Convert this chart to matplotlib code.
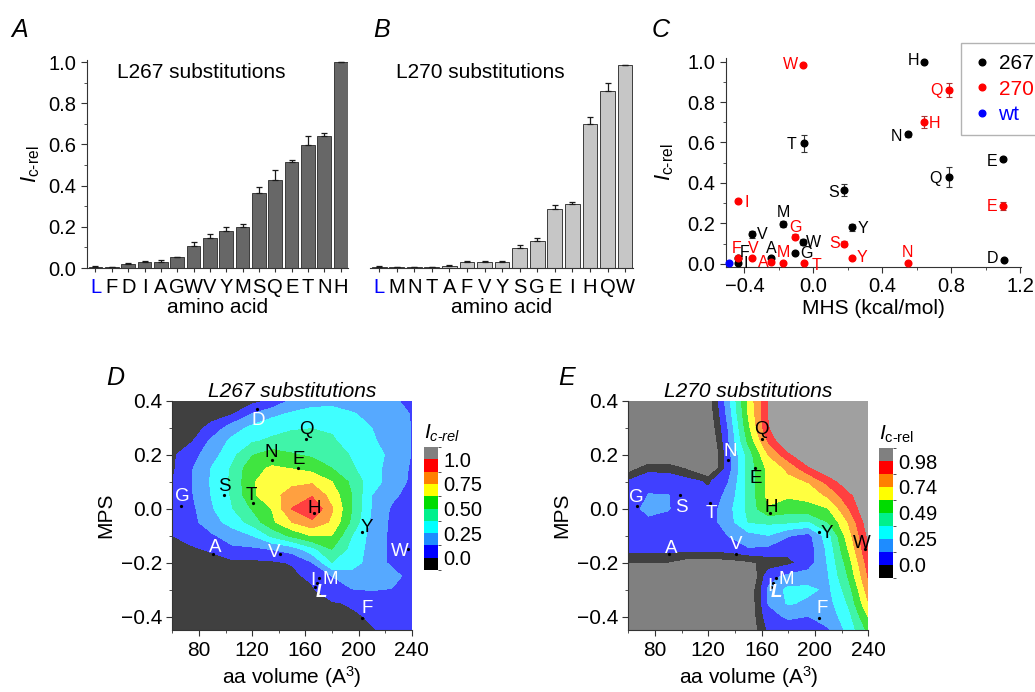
import numpy as np
import matplotlib.pyplot as plt
from matplotlib.colors import ListedColormap, BoundaryNorm, to_rgb
from matplotlib.cm import ScalarMappable
from matplotlib.lines import Line2D
from matplotlib.ticker import MultipleLocator

plt.rcParams['font.family'] = ['Liberation Sans', 'DejaVu Sans']
plt.rcParams['mathtext.fontset'] = 'custom'
plt.rcParams['mathtext.rm'] = 'Liberation Sans'
plt.rcParams['mathtext.it'] = 'Liberation Sans:italic'
plt.rcParams['axes.linewidth'] = 0.8
plt.rcParams['axes.edgecolor'] = '#333333'
plt.rcParams['xtick.color'] = '#333333'
plt.rcParams['ytick.color'] = '#333333'
plt.rcParams['xtick.labelcolor'] = 'black'
plt.rcParams['ytick.labelcolor'] = 'black'

# ---------------- bar data (A, B) ----------------
aa_267 = ['L', 'F', 'D', 'I', 'A', 'G', 'W', 'V', 'Y', 'M', 'S', 'Q', 'E', 'T', 'N', 'H']
ic_267 = [0.005, 0.003, 0.021, 0.029, 0.029, 0.052, 0.108, 0.146, 0.180, 0.197,
          0.364, 0.429, 0.516, 0.597, 0.641, 1.000]
err_267 = [0.003, 0.002, 0.003, 0.003, 0.008, 0.003, 0.016, 0.017, 0.017, 0.017,
           0.029, 0.049, 0.010, 0.042, 0.013, 0.002]

aa_270 = ['L', 'M', 'N', 'T', 'A', 'F', 'V', 'Y', 'S', 'G', 'E', 'I', 'H', 'Q', 'W']
ic_270 = [0.005, 0.003, 0.003, 0.003, 0.011, 0.028, 0.028, 0.028, 0.099, 0.133,
          0.288, 0.311, 0.701, 0.861, 0.984]
err_270 = [0.003, 0.002, 0.002, 0.002, 0.004, 0.004, 0.004, 0.004, 0.012, 0.012,
           0.020, 0.010, 0.030, 0.035, 0.002]

# ---------------- hydrophobicity scale (C) ----------------
mhs = {'L': -0.487, 'F': -0.437, 'D': 1.106, 'I': -0.438, 'A': -0.246, 'G': -0.107,
       'W': -0.063, 'V': -0.355, 'Y': 0.227, 'M': -0.174, 'S': 0.180, 'Q': 0.785,
       'E': 1.099, 'T': -0.054, 'N': 0.552, 'H': 0.643}

# ---------------- amino acid volume / MPS (D, E) ----------------
aa_vol = {'G': 66.2, 'A': 90.8, 'S': 98.8, 'T': 120.9, 'D': 123.9, 'N': 134.7,
          'V': 140.9, 'E': 154.7, 'Q': 160.5, 'H': 166.5, 'I': 168.5, 'L': 167.0,
          'M': 170.5, 'Y': 202.9, 'F': 202.9, 'W': 237.5}
aa_mps = {'G': 0.011, 'A': -0.168, 'S': 0.052, 'T': 0.021, 'D': 0.370, 'N': 0.180,
          'V': -0.167, 'E': 0.150, 'Q': 0.260, 'H': -0.017, 'I': -0.275, 'L': -0.290,
          'M': -0.257, 'Y': -0.088, 'F': -0.405, 'W': -0.148}

# contour grids (rows: MPS from 0.40 down to -0.45)
vol_grid = [60, 75, 90, 105, 120, 135, 150, 165, 180, 195, 210, 225, 240]
mps_grid = [0.40, 0.35, 0.30, 0.25, 0.20, 0.15, 0.10, 0.05, 0.00, -0.05,
            -0.10, -0.15, -0.20, -0.25, -0.30, -0.35, -0.40, -0.45]

map_267 = [
    [-0.10, -0.10, -0.09, -0.07, -0.04, 0.02, 0.15, 0.21, 0.22, 0.20, 0.17, 0.14, 0.10],
    [-0.10, -0.08, -0.05, -0.005, 0.13, 0.22, 0.27, 0.29, 0.29, 0.26, 0.22, 0.17, 0.12],
    [-0.08, -0.05, 0.04, 0.19, 0.28, 0.33, 0.36, 0.37, 0.36, 0.32, 0.25, 0.19, 0.12],
    [-0.06, -0.005, 0.16, 0.28, 0.36, 0.40, 0.43, 0.44, 0.39, 0.33, 0.27, 0.19, 0.12],
    [-0.02, 0.08, 0.20, 0.34, 0.49, 0.56, 0.51, 0.48, 0.46, 0.36, 0.30, 0.22, 0.12],
    [-0.02, 0.12, 0.26, 0.39, 0.59, 0.64, 0.62, 0.58, 0.50, 0.39, 0.30, 0.20, 0.11],
    [0.00, 0.125, 0.27, 0.40, 0.61, 0.70, 0.72, 0.73, 0.625, 0.47, 0.30, 0.20, 0.10],
    [0.03, 0.12, 0.26, 0.39, 0.60, 0.71, 0.80, 0.86, 0.70, 0.50, 0.25, 0.15, 0.08],
    [0.02, 0.10, 0.24, 0.37, 0.51, 0.63, 0.88, 1.00, 0.76, 0.50, 0.24, 0.11, 0.07],
    [0.02, 0.09, 0.20, 0.30, 0.42, 0.60, 0.75, 0.84, 0.73, 0.47, 0.22, 0.10, 0.06],
    [0.00, 0.06, 0.11, 0.18, 0.25, 0.40, 0.53, 0.63, 0.62, 0.375, 0.20, 0.10, 0.06],
    [-0.04, -0.02, 0.02, 0.10, 0.10, 0.13, 0.18, 0.33, 0.50, 0.33, 0.20, 0.10, 0.05],
    [-0.08, -0.07, -0.05, -0.03, -0.03, -0.02, 0.01, 0.12, 0.37, 0.30, 0.20, 0.10, 0.05],
    [-0.10, -0.10, -0.09, -0.08, -0.07, -0.05, -0.03, 0.03, 0.125, 0.20, 0.20, 0.17, 0.08],
    [-0.11, -0.11, -0.10, -0.10, -0.09, -0.08, -0.06, -0.02, 0.12, 0.12, 0.13, 0.12, 0.06],
    [-0.12, -0.12, -0.11, -0.11, -0.10, -0.09, -0.08, -0.05, -0.02, 0.02, 0.05, 0.06, 0.05],
    [-0.12, -0.12, -0.12, -0.11, -0.11, -0.10, -0.09, -0.07, -0.05, -0.03, 0.02, 0.05, 0.05],
    [-0.12, -0.12, -0.12, -0.12, -0.11, -0.11, -0.10, -0.09, -0.07, -0.04, -0.01, 0.03, 0.04],
]

map_270 = [
    [-0.50, -0.50, -0.45, -0.40, -0.20, 0.20, 0.64, 0.98, 1.10, 1.15, 1.20, 1.20, 1.20],
    [-0.50, -0.50, -0.45, -0.40, -0.22, 0.17, 0.62, 0.98, 1.10, 1.15, 1.20, 1.20, 1.20],
    [-0.45, -0.45, -0.45, -0.40, -0.25, 0.13, 0.58, 0.97, 1.08, 1.15, 1.20, 1.20, 1.20],
    [-0.40, -0.40, -0.40, -0.40, -0.30, 0.11, 0.52, 0.87, 1.12, 1.15, 1.20, 1.20, 1.20],
    [-0.30, -0.30, -0.30, -0.35, -0.35, 0.08, 0.42, 0.74, 0.94, 1.12, 1.18, 1.20, 1.20],
    [-0.20, -0.05, -0.05, -0.15, -0.30, 0.06, 0.41, 0.65, 0.76, 0.95, 1.08, 1.15, 1.20],
    [0.02, 0.10, 0.08, 0.05, -0.02, 0.12, 0.40, 0.64, 0.70, 0.74, 0.90, 1.06, 1.15],
    [0.06, 0.125, 0.125, 0.05, 0.03, 0.16, 0.40, 0.65, 0.63, 0.65, 0.76, 0.94, 1.10],
    [0.08, 0.15, 0.13, 0.05, 0.05, 0.20, 0.40, 0.60, 0.55, 0.57, 0.61, 0.85, 1.10],
    [0.06, 0.10, 0.08, 0.05, 0.06, 0.19, 0.37, 0.39, 0.38, 0.35, 0.49, 0.74, 1.05],
    [0.05, 0.05, 0.05, 0.05, 0.04, 0.125, 0.20, 0.24, 0.13, 0.08, 0.32, 0.68, 1.00],
    [0.04, 0.04, 0.04, 0.04, 0.04, 0.05, 0.11, 0.09, 0.04, 0.05, 0.28, 0.62, 0.97],
    [-0.12, -0.12, -0.13, -0.20, -0.20, -0.18, -0.15, -0.08, -0.03, 0.06, 0.26, 0.55, 0.92],
    [-0.30, -0.30, -0.30, -0.30, -0.30, -0.30, -0.30, 0.08, 0.15, 0.18, 0.24, 0.50, 0.87],
    [-0.30, -0.30, -0.30, -0.30, -0.30, -0.30, -0.25, 0.14, 0.28, 0.27, 0.22, 0.43, 0.80],
    [-0.30, -0.30, -0.30, -0.30, -0.30, -0.30, -0.25, 0.13, 0.26, 0.22, 0.20, 0.38, 0.73],
    [-0.30, -0.30, -0.30, -0.30, -0.30, -0.30, -0.25, 0.08, 0.14, 0.12, 0.17, 0.32, 0.62],
    [-0.30, -0.30, -0.30, -0.30, -0.30, -0.30, -0.25, 0.02, 0.06, 0.07, 0.11, 0.28, 0.52],
]

levels_267 = [-0.125, 0.0, 0.125, 0.25, 0.375, 0.5, 0.625, 0.75, 0.875, 1.0, 1.125]
levels_270 = [-0.1225, 0.0, 0.1225, 0.245, 0.3675, 0.49, 0.6125, 0.735, 0.8575, 0.98, 1.1025]
cbar_ticks_267 = ['0.0', '0.25', '0.50', '0.75', '1.0']
cbar_ticks_270 = ['0.0', '0.25', '0.49', '0.74', '0.98']

band_colors = ['#000000', '#0000ff', '#1e8cff', '#00ffff', '#00f08c',
               '#00dc00', '#ffff00', '#ff8000', '#ff0000', '#808080']

ylab = '$I_{\\mathrm{c\u2010rel}}$'

fig = plt.figure(figsize=(10.35, 6.92), dpi=100)
W, H = 1035, 692


def px_axes(l, t, r, b):
    return fig.add_axes([l / W, 1 - b / H, (r - l) / W, (b - t) / H])


def bar_panel(ax, aa, vals, err, color, text, tx):
    x = np.arange(len(aa))
    ax.bar(x, vals, width=0.84, color=color, edgecolor='#3c3c3c', linewidth=0.7,
           yerr=[np.zeros(len(err)), err],
           error_kw=dict(ecolor='#1a1a1a', elinewidth=0.9, capsize=2.5, capthick=0.9))
    ax.set_xticks(x)
    ax.set_xticklabels(aa, fontsize=14.5)
    ax.get_xticklabels()[0].set_color('blue')
    ax.set_xlim(-0.52, len(aa) - 0.55)
    ax.set_ylim(0, 1.01)
    ax.spines['top'].set_visible(False)
    ax.spines['right'].set_visible(False)
    ax.tick_params(axis='x', length=3, pad=4)
    ax.set_xlabel('amino acid', fontsize=15, labelpad=1)
    ax.text(tx, 0.94, text, transform=ax.transAxes, ha='center', va='center', fontsize=15)


# A
axA = px_axes(87, 60, 348, 268)
bar_panel(axA, aa_267, ic_267, err_267, '#676767', 'L267 substitutions', 0.437)
axA.yaxis.set_minor_locator(MultipleLocator(0.1))
axA.set_yticks([0, 0.2, 0.4, 0.6, 0.8, 1.0])
axA.set_yticklabels(['0.0', '0.2', '0.4', '0.6', '0.8', '1.0'], fontsize=14.5)
axA.tick_params(axis='y', which='major', length=4)
axA.tick_params(axis='y', which='minor', length=2.5)
axA.set_ylabel(ylab, fontsize=16, labelpad=5)

# B
axB = px_axes(370, 60, 633, 268)
bar_panel(axB, aa_270, ic_270, err_270, '#c6c6c6', 'L270 substitutions', 0.418)
axB.spines['left'].set_visible(False)
axB.set_yticks([])

# C
axC = px_axes(726, 58, 1021, 267)
axC.set_xlim(-0.507, 1.205)
axC.set_ylim(-0.016, 1.018)
axC.spines['top'].set_visible(False)
axC.spines['right'].set_visible(False)
axC.xaxis.set_minor_locator(MultipleLocator(0.2))
axC.yaxis.set_minor_locator(MultipleLocator(0.1))
axC.set_xticks([-0.4, 0.0, 0.4, 0.8, 1.2])
axC.set_xticklabels(['\u22120.4', '0.0', '0.4', '0.8', '1.2'], fontsize=14.5)
axC.set_yticks([0, 0.2, 0.4, 0.6, 0.8, 1.0])
axC.set_yticklabels(['0.0', '0.2', '0.4', '0.6', '0.8', '1.0'], fontsize=14.5)
axC.tick_params(which='major', length=4)
axC.tick_params(which='minor', length=2.5)
axC.set_xlabel('MHS (kcal/mol)', fontsize=15, labelpad=2)
axC.set_ylabel(ylab, fontsize=16, labelpad=8)

# label offsets (points) for panel C
off_c267 = {'H': (-8, 0.7), 'N': (-9, -1.7), 'T': (-9, -1), 'E': (-8, -1.7), 'Q': (-9.5, -1.2),
            'S': (-8, -1.4), 'M': (0, 8), 'Y': (7.5, -0.7), 'V': (7, -0.5), 'W': (8, -0.2),
            'G': (8, -0.5), 'A': (0, 7), 'F': (4.6, 7.7), 'I': (6, -4), 'D': (-8.5, 0.7)}
off_c270 = {'W': (-9, 0), 'Q': (-9, -0.7), 'H': (7.5, -0.7), 'E': (-7.5, -1), 'I': (6.5, -1.2),
            'G': (0.7, 6.8), 'S': (-7, 0), 'F': (-1, 6.8), 'V': (1, 6.8), 'A': (-5.5, -0.8),
            'M': (0, 7.4), 'T': (8.6, -1.5), 'Y': (7, 0.5), 'N': (-0.5, 7.4)}

for aa, vals, err, col, offs in [(aa_267, ic_267, err_267, 'black', off_c267),
                                 (aa_270, ic_270, err_270, 'red', off_c270)]:
    xs = [mhs[a] for a in aa[1:]]
    axC.errorbar(xs, vals[1:], yerr=err[1:], fmt='none', elinewidth=0.8, capsize=2,
                 capthick=0.8, ecolor='#333333' if col == 'black' else '#aa3333', zorder=3)
    axC.plot(xs, vals[1:], 'o', color=col, ms=4.8, zorder=4)
    for a, x, y in zip(aa[1:], xs, vals[1:]):
        axC.annotate(a, (x, y), xytext=offs[a], textcoords='offset points',
                     ha='center', va='center', color=col, fontsize=11.5, zorder=5)
axC.plot([mhs['L']], [ic_267[0]], 'o', color='blue', ms=4.8, zorder=6, clip_on=False)

handles = [Line2D([], [], marker='o', ls='', color=c, ms=4.8) for c in ['black', 'red', 'blue']]
fig.legend(handles, ['267', '270', 'wt'], loc='upper left', bbox_to_anchor=(961 / W, 1 - 43 / H),
           frameon=True, fancybox=False, edgecolor='#a0a0a0', fontsize=15,
           labelcolor=['black', 'red', 'blue'], handletextpad=0.35, borderpad=0.55,
           labelspacing=0.3, handlelength=0.9, borderaxespad=0)


def lighten(c, a=0.75):
    r = np.array(to_rgb(c))
    return tuple(r * a + (1 - a))


def map_panel(ax, cax, grid, levels, aa_list, offs, white, title, ticklabels, under, cb_title):
    Z = np.array(grid)[::-1]
    yv = np.array(mps_grid)[::-1]
    cmap = ListedColormap([lighten(c) for c in band_colors[:9]])
    cmap.set_over(lighten(band_colors[9]))
    cmap.set_under(lighten(under))
    ax.contourf(vol_grid, yv, Z, levels=levels[:10], cmap=cmap, extend='both')
    ax.set_xlim(60, 240)
    ax.set_ylim(-0.45, 0.4)
    ax.spines['top'].set_visible(False)
    ax.spines['right'].set_visible(False)
    ax.set_xticks([80, 120, 160, 200, 240])
    ax.xaxis.set_minor_locator(MultipleLocator(20))
    ax.set_yticks([-0.4, -0.2, 0.0, 0.2, 0.4])
    ax.yaxis.set_minor_locator(MultipleLocator(0.1))
    ax.tick_params(labelsize=15)
    ax.tick_params(which='major', length=4)
    ax.tick_params(which='minor', length=2.5)
    ax.set_xlabel('aa volume (A$^3$)', fontsize=15, labelpad=3)
    ax.set_ylabel('MPS', fontsize=15, labelpad=4)
    ax.set_title(title, fontsize=15, style='italic', pad=3)
    for a in aa_list:
        x, y = aa_vol[a], aa_mps[a]
        ax.plot(x, y, 'o', color='black', ms=1.3, zorder=4)
        ax.annotate(a, (x, y), xytext=offs[a], textcoords='offset points',
                    ha='center', va='center', fontsize=13.5,
                    color='white' if a in white else 'black',
                    style='italic' if a == 'L' else 'normal',
                    fontweight='bold' if a == 'L' else 'normal', zorder=5)
    # colour key
    cb_cmap = ListedColormap(band_colors)
    cb_norm = BoundaryNorm(levels, cb_cmap.N)
    cb = fig.colorbar(ScalarMappable(norm=cb_norm, cmap=cb_cmap), cax=cax)
    cb.outline.set_visible(False)
    cb.set_ticks(levels[1:10:2])
    cb.set_ticklabels(ticklabels)
    cax.tick_params(length=0, labelsize=14.5, pad=4)
    cax.set_title(cb_title, fontsize=15, pad=6, loc='left')


off_d = {'D': (0.7, -8.6), 'Q': (0, 6.2), 'N': (0, 5.5), 'E': (0, 6), 'S': (0, 6),
         'T': (-1.2, 5.3), 'G': (1.4, 6.5), 'H': (0, 3.8), 'Y': (3.1, 3.6), 'W': (-6.5, -1.9),
         'A': (1.2, 4.8), 'V': (-4.3, 1.2), 'I': (-2.4, 1.9), 'M': (8.2, -1.2), 'L': (5, -4),
         'F': (3.6, 6.7)}
off_e = {'G': (0, 5.8), 'S': (0.7, -9.6), 'T': (1.2, -7.2), 'A': (1.2, 3.8), 'V': (0, 7),
         'N': (1.4, 6), 'E': (0.7, -7.2), 'Q': (-0.7, 6.2), 'H': (1, 4), 'Y': (5.8, -1),
         'W': (-2, 3.6), 'I': (-2, -2.4), 'M': (8, -1.2), 'L': (4, -4), 'F': (2.6, 6.7)}

axD = px_axes(172.4, 400.7, 411.7, 630.2)
caxD = px_axes(424, 447, 438, 570)
map_panel(axD, caxD, map_267, levels_267, ['D', 'Q', 'N', 'E', 'S', 'T', 'G', 'H', 'Y', 'W',
                                            'A', 'V', 'I', 'M', 'L', 'F'],
          off_d, {'D', 'G', 'A', 'V', 'I', 'M', 'L', 'F', 'W'}, 'L267 substitutions',
          cbar_ticks_267, '#000000', '$I_{c\u2010rel}$')

axE = px_axes(628.3, 400.7, 868.3, 630.2)
caxE = px_axes(879, 448, 893, 578)
map_panel(axE, caxE, map_270, levels_270, ['G', 'S', 'T', 'A', 'V', 'N', 'E', 'Q', 'H', 'Y',
                                            'W', 'I', 'M', 'L', 'F'],
          off_e, {'G', 'S', 'T', 'A', 'V', 'N', 'I', 'M', 'L', 'F'}, 'L270 substitutions',
          cbar_ticks_270, '#555555', ylab)

# panel letters
for lab, x, y in [('A', 20, 30), ('B', 382, 30), ('C', 661, 30), ('D', 115, 378), ('E', 567, 378)]:
    fig.text(x / W, 1 - y / H, lab, fontsize=18, style='italic', ha='center', va='center')

fig.savefig('out.png', dpi=100)
